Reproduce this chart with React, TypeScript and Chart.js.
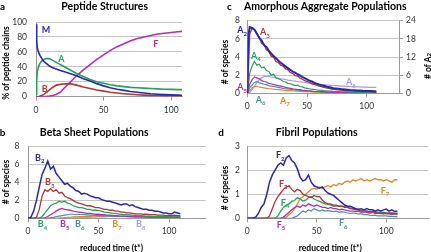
import React, { useEffect, useRef } from "react";
import { Chart, registerables } from "chart.js";
Chart.register(...registerables);

// ---------- data ----------
const xTicks = [0, 50, 100];

// panel a: peptide structures (% of chains)
const timeA = [0, 0.5, 1, 2, 3, 4, 5, 6, 8, 10, 12, 15, 18, 20, 25, 30, 35, 40, 45, 50, 55, 60, 65, 70, 75, 80, 85, 90, 95, 100, 105, 108];
const pctM = [97, 75, 65, 59, 55, 52, 49, 47, 44, 41, 39, 37, 35, 34, 31, 28, 24, 21, 17.5, 14.5, 12, 10, 8.5, 7, 6, 5, 4, 3.3, 2.8, 2.4, 2.1, 2];
const pctA = [3, 22, 34, 41, 45, 47, 49, 50, 51, 51, 49, 46, 43, 41, 36, 31, 27, 23, 20, 18, 16, 14.5, 13.5, 12.5, 12, 11.5, 11, 10.5, 10, 9.8, 9.5, 9.5];
const pctB = [0, 0, 0, 0.3, 0.8, 1.5, 2.5, 3.5, 6, 9, 12, 15.5, 16.5, 17, 17.5, 15.5, 13, 11, 9, 7.5, 6, 5, 4, 3.2, 2.6, 2.1, 1.8, 1.6, 1.4, 1.3, 1.3, 1.3];
const pctF = [0, 0, 0, 0, 0, 0, 0.1, 0.2, 0.4, 0.8, 1.5, 3, 6, 10, 19, 28, 36, 43, 50, 56, 62, 67, 71, 75, 78, 80, 82, 84, 85, 86, 87, 87.5];

// shared time grid for panels b and d
const timeBD = [0, 2, 4, 6, 8, 10, 12, 14, 16, 18, 20, 22, 24, 26, 28, 30, 32, 34, 36, 38, 40, 42, 44, 46, 48, 50, 52, 54, 56, 58, 60, 62, 64, 66, 68, 70, 72, 74, 76, 78, 80, 82, 84, 86, 88, 90, 92, 94, 96, 98, 100, 102, 104, 106, 108];

// panel b: beta sheet populations
const b2 = [0, 0.1, 0.8, 2.0, 3.5, 4.9, 5.6, 6.4, 5.5, 5.8, 5.0, 4.6, 4.2, 3.8, 3.9, 3.6, 3.4, 3.1, 3.0, 2.7, 2.8, 2.7, 2.5, 2.4, 2.3, 2.3, 2.1, 2.0, 1.9, 1.9, 1.8, 1.7, 1.6, 1.5, 1.6, 1.6, 1.4, 1.5, 1.3, 1.2, 1.1, 1.0, 1.0, 0.9, 0.9, 0.8, 0.8, 0.7, 0.6, 0.6, 0.5, 0.5, 0.7, 0.6, 0.5];
const b3 = [0, 0, 0, 0.1, 1.0, 2.5, 3.2, 3.0, 3.3, 3.0, 3.2, 2.8, 2.9, 2.5, 2.3, 2.2, 2.0, 1.8, 1.7, 1.6, 1.5, 1.4, 1.4, 1.3, 1.2, 1.2, 1.1, 1.0, 1.0, 0.9, 0.9, 0.8, 0.8, 0.7, 0.7, 0.6, 0.6, 0.55, 0.5, 0.5, 0.5, 0.45, 0.45, 0.4, 0.4, 0.4, 0.35, 0.35, 0.35, 0.3, 0.3, 0.3, 0.35, 0.3, 0.3];
const b4 = [0, 0, 0, 0, 0, 0.2, 0.6, 1.0, 1.4, 1.6, 1.7, 1.9, 1.8, 1.9, 1.7, 1.6, 1.4, 1.3, 1.2, 1.2, 1.1, 1.0, 1.0, 0.9, 0.9, 0.85, 0.8, 0.7, 0.65, 0.6, 0.55, 0.55, 0.5, 0.45, 0.4, 0.4, 0.38, 0.35, 0.33, 0.3, 0.3, 0.28, 0.25, 0.25, 0.22, 0.2, 0.2, 0.2, 0.18, 0.18, 0.15, 0.15, 0.15, 0.15, 0.15];
const b5 = [0, 0, 0, 0, 0, 0, 0.05, 0.2, 0.4, 0.6, 0.8, 1.0, 1.1, 1.0, 0.95, 0.9, 0.8, 0.75, 0.7, 0.65, 0.6, 0.55, 0.55, 0.5, 0.45, 0.45, 0.4, 0.4, 0.35, 0.35, 0.3, 0.3, 0.28, 0.25, 0.25, 0.22, 0.2, 0.2, 0.18, 0.18, 0.16, 0.15, 0.15, 0.14, 0.14, 0.13, 0.13, 0.12, 0.12, 0.12, 0.11, 0.11, 0.1, 0.1, 0.1];
const b6 = [0, 0, 0, 0, 0, 0, 0, 0, 0.05, 0.1, 0.2, 0.25, 0.3, 0.35, 0.4, 0.45, 0.45, 0.4, 0.45, 0.4, 0.4, 0.38, 0.35, 0.35, 0.33, 0.3, 0.3, 0.28, 0.28, 0.25, 0.25, 0.22, 0.22, 0.2, 0.2, 0.2, 0.18, 0.18, 0.16, 0.16, 0.15, 0.15, 0.14, 0.14, 0.13, 0.13, 0.12, 0.12, 0.11, 0.11, 0.1, 0.1, 0.1, 0.1, 0.1];
const b7 = [0, 0, 0, 0, 0, 0, 0, 0, 0, 0, 0, 0.02, 0.05, 0.08, 0.1, 0.12, 0.15, 0.15, 0.18, 0.2, 0.2, 0.22, 0.22, 0.25, 0.25, 0.25, 0.25, 0.25, 0.25, 0.22, 0.22, 0.22, 0.2, 0.2, 0.2, 0.2, 0.18, 0.18, 0.17, 0.16, 0.15, 0.15, 0.14, 0.14, 0.13, 0.13, 0.12, 0.12, 0.11, 0.11, 0.1, 0.1, 0.1, 0.1, 0.1];
const b8 = [0, 0, 0, 0, 0, 0, 0, 0, 0, 0, 0, 0, 0, 0, 0, 0, 0.02, 0.04, 0.05, 0.07, 0.08, 0.1, 0.1, 0.12, 0.13, 0.15, 0.15, 0.17, 0.18, 0.2, 0.2, 0.22, 0.22, 0.22, 0.24, 0.25, 0.24, 0.24, 0.22, 0.22, 0.22, 0.2, 0.2, 0.2, 0.19, 0.18, 0.18, 0.17, 0.17, 0.16, 0.16, 0.15, 0.15, 0.15, 0.15];

// panel c: amorphous aggregate populations (A2 on right axis, # of A2)
const timeC = [0, 1, 2, 4, 6, 8, 10, 12, 14, 16, 18, 20, 22, 24, 26, 28, 30, 32, 34, 36, 38, 40, 42, 44, 46, 48, 50, 52, 54, 56, 58, 60, 62, 64, 66, 68, 70, 72, 74, 76, 78, 80, 82, 84, 86, 88, 90, 92, 94, 96, 98, 100, 102, 104, 106, 108];
const a2 = [0, 19.5, 21.9, 21.6, 21.0, 19.8, 18.3, 17.4, 15.9, 15.3, 14.1, 13.2, 12.3, 11.6, 10.8, 10.1, 9.5, 8.9, 8.3, 7.8, 7.2, 6.8, 6.3, 5.9, 5.4, 5.0, 4.6, 4.2, 3.9, 3.5, 3.2, 2.9, 2.7, 2.5, 2.25, 2.05, 1.9, 1.7, 1.6, 1.5, 1.4, 1.3, 1.25, 1.2, 1.1, 1.05, 1.0, 0.95, 0.9, 0.85, 0.8, 0.78, 0.75, 0.72, 0.69, 0.66];
const a3 = [0, 3.0, 6.5, 7.2, 7.0, 6.5, 6.2, 5.5, 5.4, 4.8, 4.6, 4.1, 4.0, 3.5, 3.4, 3.1, 3.0, 2.7, 2.6, 2.3, 2.2, 1.95, 1.9, 1.7, 1.55, 1.4, 1.3, 1.2, 1.05, 1.0, 0.9, 0.8, 0.75, 0.65, 0.6, 0.55, 0.5, 0.45, 0.42, 0.38, 0.35, 0.33, 0.3, 0.28, 0.27, 0.25, 0.24, 0.22, 0.21, 0.2, 0.19, 0.18, 0.18, 0.17, 0.16, 0.16];
const a4 = [0, 1.0, 2.2, 3.0, 3.5, 3.1, 3.2, 2.8, 2.9, 2.5, 2.4, 2.0, 2.1, 1.7, 1.6, 1.5, 1.3, 1.25, 1.1, 1.05, 0.95, 0.85, 0.9, 0.75, 0.7, 0.6, 0.55, 0.5, 0.45, 0.42, 0.38, 0.35, 0.33, 0.3, 0.28, 0.26, 0.25, 0.22, 0.2, 0.2, 0.18, 0.17, 0.15, 0.15, 0.14, 0.13, 0.12, 0.12, 0.11, 0.1, 0.1, 0.1, 0.09, 0.09, 0.08, 0.08];
const a5 = [0, 0.5, 1.0, 1.5, 1.8, 1.7, 1.6, 1.4, 1.3, 1.25, 1.1, 1.05, 0.95, 0.9, 0.85, 0.8, 0.75, 0.65, 0.6, 0.55, 0.5, 0.45, 0.42, 0.4, 0.35, 0.33, 0.3, 0.28, 0.25, 0.22, 0.2, 0.2, 0.18, 0.16, 0.15, 0.14, 0.13, 0.12, 0.11, 0.1, 0.1, 0.1, 0.09, 0.09, 0.08, 0.08, 0.08, 0.07, 0.07, 0.07, 0.06, 0.06, 0.06, 0.06, 0.06, 0.06];
const a6 = [0, 0.3, 0.6, 0.9, 1.2, 1.3, 1.15, 1.1, 1.0, 0.95, 0.85, 0.8, 0.75, 0.7, 0.65, 0.6, 0.55, 0.5, 0.48, 0.45, 0.4, 0.38, 0.35, 0.32, 0.3, 0.28, 0.25, 0.23, 0.21, 0.2, 0.18, 0.17, 0.16, 0.15, 0.14, 0.13, 0.12, 0.11, 0.1, 0.1, 0.09, 0.09, 0.08, 0.08, 0.07, 0.07, 0.07, 0.06, 0.06, 0.06, 0.05, 0.05, 0.05, 0.05, 0.05, 0.05];
const a7 = [0, 0.1, 0.3, 0.6, 0.75, 0.8, 0.7, 0.65, 0.6, 0.55, 0.5, 0.5, 0.45, 0.42, 0.4, 0.38, 0.35, 0.33, 0.3, 0.3, 0.28, 0.25, 0.23, 0.22, 0.2, 0.19, 0.18, 0.17, 0.15, 0.14, 0.13, 0.12, 0.11, 0.1, 0.1, 0.09, 0.09, 0.08, 0.08, 0.07, 0.07, 0.06, 0.06, 0.06, 0.05, 0.05, 0.05, 0.04, 0.04, 0.04, 0.04, 0.03, 0.03, 0.03, 0.03, 0.03];
const a8 = [0, 0.05, 0.1, 0.4, 0.8, 1.2, 1.5, 1.7, 1.85, 1.9, 1.85, 1.8, 1.75, 1.7, 1.65, 1.6, 1.55, 1.5, 1.45, 1.42, 1.38, 1.35, 1.3, 1.27, 1.23, 1.2, 1.15, 1.12, 1.08, 1.05, 1.02, 1.0, 0.97, 0.95, 0.92, 0.9, 0.88, 0.86, 0.84, 0.82, 0.8, 0.79, 0.77, 0.76, 0.75, 0.74, 0.72, 0.71, 0.7, 0.69, 0.68, 0.67, 0.66, 0.66, 0.65, 0.65];

// panel d: fibril populations
const f2 = [0, 0, 0, 0.05, 0.2, 0.45, 0.6, 1.0, 1.5, 1.8, 2.0, 2.2, 2.3, 2.2, 2.5, 2.6, 2.4, 2.3, 2.05, 1.7, 1.55, 1.6, 1.8, 1.5, 1.35, 1.3, 1.25, 1.3, 1.15, 1.05, 1.0, 0.95, 0.85, 0.75, 0.65, 0.55, 0.5, 0.5, 0.45, 0.4, 0.38, 0.4, 0.35, 0.4, 0.35, 0.35, 0.3, 0.35, 0.3, 0.35, 0.38, 0.3, 0.35, 0.28, 0.3];
const f3 = [0, 0, 0, 0, 0, 0, 0, 0, 0.1, 0.4, 0.7, 0.9, 1.05, 1.2, 1.3, 1.35, 1.2, 1.1, 1.2, 1.15, 1.0, 0.95, 0.9, 0.85, 0.95, 0.9, 0.9, 0.75, 0.65, 0.6, 0.6, 0.55, 0.55, 0.5, 0.5, 0.45, 0.45, 0.4, 0.4, 0.35, 0.35, 0.3, 0.3, 0.3, 0.25, 0.28, 0.25, 0.22, 0.2, 0.22, 0.2, 0.2, 0.22, 0.2, 0.2];
const f4 = [0, 0, 0, 0, 0, 0, 0, 0, 0, 0, 0, 0.1, 0.3, 0.45, 0.55, 0.6, 0.7, 0.75, 0.85, 0.8, 0.72, 0.75, 0.85, 0.9, 0.8, 0.75, 0.7, 0.65, 0.6, 0.58, 0.55, 0.5, 0.52, 0.5, 0.5, 0.48, 0.45, 0.42, 0.38, 0.38, 0.35, 0.33, 0.3, 0.3, 0.28, 0.28, 0.27, 0.26, 0.25, 0.24, 0.22, 0.22, 0.2, 0.2, 0.2];
const f5 = [0, 0, 0, 0, 0, 0, 0, 0, 0, 0, 0, 0, 0, 0.05, 0.15, 0.25, 0.35, 0.45, 0.5, 0.45, 0.55, 0.5, 0.6, 0.55, 0.5, 0.55, 0.5, 0.45, 0.45, 0.4, 0.45, 0.4, 0.4, 0.35, 0.38, 0.35, 0.32, 0.3, 0.3, 0.28, 0.3, 0.25, 0.27, 0.25, 0.22, 0.25, 0.2, 0.22, 0.2, 0.18, 0.2, 0.18, 0.15, 0.18, 0.15];
const f6 = [0, 0, 0, 0, 0, 0, 0, 0, 0, 0, 0, 0, 0, 0, 0, 0, 0, 0.05, 0.1, 0.2, 0.3, 0.25, 0.35, 0.3, 0.4, 0.35, 0.3, 0.35, 0.3, 0.32, 0.3, 0.28, 0.3, 0.25, 0.28, 0.25, 0.22, 0.2, 0.22, 0.2, 0.18, 0.18, 0.15, 0.15, 0.13, 0.12, 0.12, 0.1, 0.1, 0.1, 0.1, 0.08, 0.08, 0.07, 0.07];
const f7 = [0, 0, 0, 0, 0, 0, 0, 0, 0, 0, 0, 0, 0, 0, 0.05, 0.15, 0.25, 0.4, 0.6, 0.8, 0.9, 1.0, 1.1, 1.2, 1.25, 1.2, 1.3, 1.25, 1.3, 1.35, 1.3, 1.4, 1.35, 1.45, 1.4, 1.5, 1.55, 1.5, 1.6, 1.55, 1.6, 1.65, 1.55, 1.6, 1.55, 1.6, 1.65, 1.6, 1.6, 1.55, 1.6, 1.55, 1.5, 1.6, 1.6];

// ---------- styles ----------
const BLUE = "#2828ae";
const RED = "#ae3636";
const GREEN = "#25a05c";
const MAGENTA = "#b42cb4";
const STEEL = "#4a8eac";
const ORANGE = "#e0872c";
const LAVENDER = "#a39ce6";
const GRID = "#c4c4c4";
const AXIS = "#9a9a9a";
const TICK = "#333333";
const FONT = "Lato, 'Open Sans', sans-serif";

const pts = (t: number[], v: number[]) => t.map((x, i) => ({ x, y: v[i] }));
const ds = (t: number[], v: number[], color: string, width: number, axis = "y") => ({
  data: pts(t, v),
  borderColor: color,
  borderWidth: width,
  pointRadius: 0,
  fill: false,
  tension: 0,
  yAxisID: axis,
});

type Spec = {
  left: number; top: number; width: number; height: number;
  area: { l: number; t: number; r: number; b: number };
  xMax: number; yMax: number; yStep: number; yPad: number;
  y1?: { max: number; step: number };
  datasets: any[];
};

const tickFont = { family: FONT, size: 8.5 };

function Panel({ spec }: { spec: Spec }) {
  const ref = useRef<HTMLCanvasElement>(null);
  useEffect(() => {
    const scales: any = {
      x: {
        type: "linear", min: 0, max: spec.xMax,
        afterBuildTicks: (s: any) => { s.ticks = xTicks.map((v) => ({ value: v })); },
        afterFit: (s: any) => { s.height = spec.height - spec.area.b; },
        grid: { drawOnChartArea: false, drawTicks: true, tickLength: 4, color: AXIS },
        border: { display: true, color: AXIS },
        ticks: { padding: 4, font: tickFont, color: TICK, maxRotation: 0 },
      },
      y: {
        type: "linear", position: "left", min: 0, max: spec.yMax,
        afterFit: (s: any) => { s.width = spec.area.l; },
        grid: { color: GRID, drawTicks: false },
        border: { display: true, color: AXIS },
        ticks: { stepSize: spec.yStep, padding: spec.yPad, font: tickFont, color: TICK },
      },
    };
    if (spec.y1) {
      scales.y1 = {
        type: "linear", position: "right", min: 0, max: spec.y1.max,
        afterFit: (s: any) => { s.width = spec.width - spec.area.r; },
        grid: { drawOnChartArea: false, drawTicks: true, tickLength: 4, color: AXIS },
        border: { display: true, color: AXIS },
        ticks: { stepSize: spec.y1.step, padding: 3, font: tickFont, color: TICK },
      };
    }
    const chart = new Chart(ref.current as HTMLCanvasElement, {
      type: "line",
      data: { datasets: spec.datasets },
      options: {
        responsive: false,
        animation: false,
        devicePixelRatio: 1,
        layout: { padding: { left: 0, top: spec.area.t, right: spec.y1 ? 0 : spec.width - spec.area.r, bottom: 0 } },
        plugins: { legend: { display: false }, tooltip: { enabled: false }, title: { display: false } },
        scales,
      } as any,
    });
    return () => chart.destroy();
  }, []);
  return (
    <canvas
      ref={ref}
      width={spec.width}
      height={spec.height}
      style={{ position: "absolute", left: spec.left, top: spec.top, width: spec.width, height: spec.height }}
    />
  );
}

const panelA: Spec = {
  left: 0, top: 0, width: 215, height: 126,
  area: { l: 36, t: 22, r: 182, b: 96.7 },
  xMax: 108, yMax: 100, yStep: 20, yPad: 9,
  datasets: [
    ds(timeA, pctM, BLUE, 1.6),
    ds(timeA, pctA, GREEN, 1.6),
    ds(timeA, pctB, RED, 1.6),
    ds(timeA, pctF, MAGENTA, 1.6),
  ],
};

const panelB: Spec = {
  left: 0, top: 126, width: 215, height: 126,
  area: { l: 28, t: 20.7, r: 205.7, b: 92.3 },
  xMax: 126, yMax: 8, yStep: 2, yPad: 8.5,
  datasets: [
    ds(timeBD, b2, BLUE, 1.5),
    ds(timeBD, b3, RED, 1.3),
    ds(timeBD, b4, GREEN, 1.3),
    ds(timeBD, b5, MAGENTA, 1.3),
    ds(timeBD, b6, STEEL, 1.2),
    ds(timeBD, b7, ORANGE, 1.2),
    ds(timeBD, b8, LAVENDER, 1.2),
  ],
};

const panelC: Spec = {
  left: 215, top: 0, width: 216, height: 126,
  area: { l: 32.3, t: 20.7, r: 184, b: 93.3 },
  xMax: 127, yMax: 8, yStep: 2, yPad: 7.3,
  y1: { max: 24, step: 6 },
  datasets: [
    ds(timeC, a2, BLUE, 2, "y1"),
    ds(timeC, a3, RED, 1.4),
    ds(timeC, a4, GREEN, 1.2),
    ds(timeC, a5, MAGENTA, 1.2),
    ds(timeC, a6, STEEL, 1.2),
    ds(timeC, a7, ORANGE, 1.2),
    ds(timeC, a8, LAVENDER, 1.2),
  ],
};

const panelD: Spec = {
  left: 215, top: 126, width: 216, height: 126,
  area: { l: 32.3, t: 20, r: 213, b: 92.3 },
  xMax: 130, yMax: 3, yStep: 1, yPad: 7.3,
  datasets: [
    ds(timeBD, f2, BLUE, 1.5),
    ds(timeBD, f3, RED, 1.3),
    ds(timeBD, f4, GREEN, 1.3),
    ds(timeBD, f5, MAGENTA, 1.3),
    ds(timeBD, f6, STEEL, 1.2),
    ds(timeBD, f7, ORANGE, 1.3),
  ],
};

// ---------- text helpers ----------
function Txt(props: { x: number; y: number; size: number; bold?: boolean; color?: string; rotate?: boolean; children: any; align?: "center" | "left" }) {
  const { x, y, size, bold, color, rotate, children, align } = props;
  const transform = rotate
    ? "translate(-50%,-50%) rotate(-90deg)"
    : align === "left" ? "translate(0,-50%)" : "translate(-50%,-50%)";
  return (
    <div
      style={{
        position: "absolute", left: x, top: y, transform, whiteSpace: "nowrap",
        fontFamily: FONT, fontSize: size, fontWeight: bold ? 700 : 400, color: color || "#000", lineHeight: 1,
      }}
    >
      {children}
    </div>
  );
}

function Lbl({ x, y, main, sub, color }: { x: number; y: number; main: string; sub?: string; color: string }) {
  return (
    <Txt x={x} y={y} size={9} bold color={color} align="left">
      {main}
      {sub ? <span style={{ fontSize: 6, position: "relative", top: 2.5 }}>{sub}</span> : null}
    </Txt>
  );
}

export default function App() {
  return (
    <div style={{ position: "absolute", left: 0, top: 0, width: 431, height: 252, background: "#fff", overflow: "hidden" }}>
      <Panel spec={panelA} />
      <Panel spec={panelB} />
      <Panel spec={panelC} />
      <Panel spec={panelD} />

      {/* panel letters and titles */}
      <Txt x={2.5} y={6} size={10} bold>a</Txt>
      <Txt x={104.7} y={6} size={10.5} bold>Peptide Structures</Txt>
      <Txt x={229.3} y={6} size={10} bold>c</Txt>
      <Txt x={325.3} y={6} size={10.5} bold>Amorphous Aggregate Populations</Txt>
      <Txt x={2.5} y={131.7} size={10} bold>b</Txt>
      <Txt x={94.2} y={131.7} size={10.5} bold>Beta Sheet Populations</Txt>
      <Txt x={221} y={131.7} size={10} bold>d</Txt>
      <Txt x={316.7} y={131.7} size={10.5} bold>Fibril Populations</Txt>

      {/* axis titles */}
      <Txt x={6.2} y={62.5} size={8.5} bold rotate>% of peptide chains</Txt>
      <Txt x={225.3} y={61.7} size={8.5} bold rotate># of species</Txt>
      <Txt x={427.5} y={66} size={8.5} bold rotate>
        # of A<span style={{ fontSize: 6 }}>2</span>
      </Txt>
      <Txt x={6.3} y={182} size={8.5} bold rotate># of species</Txt>
      <Txt x={225.3} y={187.7} size={8.5} bold rotate># of species</Txt>
      <Txt x={111.5} y={248} size={8.5} bold>reduced time (t*)</Txt>
      <Txt x={330.3} y={248} size={8.5} bold>reduced time (t*)</Txt>

      {/* series labels: panel a */}
      <Lbl x={41.7} y={28.8} main="M" color={BLUE} />
      <Lbl x={58.3} y={57.5} main="A" color={GREEN} />
      <Lbl x={41.7} y={87.5} main="B" color={RED} />
      <Lbl x={153.3} y={42.5} main="F" color={MAGENTA} />

      {/* panel c */}
      <Lbl x={237.3} y={29.3} main="A" sub="2" color={BLUE} />
      <Lbl x={260} y={31.3} main="A" sub="3" color={RED} />
      <Lbl x={251} y={54.5} main="A" sub="4" color={GREEN} />
      <Lbl x={237.3} y={86.3} main="A" sub="5" color={MAGENTA} />
      <Lbl x={255.7} y={98.7} main="A" sub="6" color={STEEL} />
      <Lbl x={280} y={99.7} main="A" sub="7" color={ORANGE} />
      <Lbl x={346} y={81} main="A" sub="8" color={LAVENDER} />

      {/* panel b */}
      <Lbl x={35} y={156.8} main="B" sub="2" color={BLUE} />
      <Lbl x={45} y={181.3} main="B" sub="3" color={RED} />
      <Lbl x={37.7} y={223} main="B" sub="4" color={GREEN} />
      <Lbl x={60} y={223} main="B" sub="5" color={MAGENTA} />
      <Lbl x={75} y={223} main="B" sub="6" color={STEEL} />
      <Lbl x={112.3} y={223} main="B" sub="7" color={ORANGE} />
      <Lbl x={136} y={223} main="B" sub="8" color={LAVENDER} />

      {/* panel d */}
      <Lbl x={276} y={154.3} main="F" sub="2" color={BLUE} />
      <Lbl x={279} y={182.7} main="F" sub="3" color={RED} />
      <Lbl x={280.7} y={201.7} main="F" sub="4" color={GREEN} />
      <Lbl x={276.7} y={223.7} main="F" sub="5" color={MAGENTA} />
      <Lbl x={339} y={222.3} main="F" sub="6" color={STEEL} />
      <Lbl x={380.7} y={189.7} main="F" sub="7" color={ORANGE} />
    </div>
  );
}
